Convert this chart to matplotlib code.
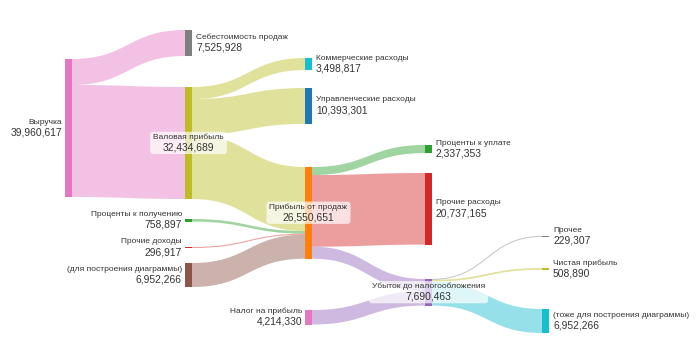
import matplotlib
matplotlib.use("Agg")
import matplotlib.pyplot as plt
from matplotlib.path import Path
from matplotlib.patches import PathPatch, Rectangle, FancyBboxPatch
from matplotlib.colors import to_rgba

plt.rcParams['font.family'] = ['Liberation Sans', 'DejaVu Sans']

# Nodes
nodes = ["Выручка", "Себестоимость продаж", "Валовая прибыль", "Коммерческие расходы",
         "Управленческие расходы", "Прибыль от продаж", "Проценты к получению",
         "Прочие доходы", "(для построения диаграммы)", "Налог на прибыль",
         "Проценты к уплате", "Прочие расходы", "Убыток до налогообложения",
         "Прочее", "Чистая прибыль", "(тоже для построения диаграммы)"]

# Links: source, target, value
link_src = [0, 0, 2, 2, 2, 6, 7, 8, 5, 5, 5, 9, 12, 12, 12]
link_tgt = [1, 2, 3, 4, 5, 5, 5, 5, 10, 11, 12, 12, 13, 14, 15]
link_val = [7525928, 32434689, 3498817, 10393301, 18542571, 758897, 296917, 6952266,
            2337353, 20737165, 3476133, 4214330, 229307, 508890, 6952266]

# Styling / layout
node_colors = ["#e377c2", "#7f7f7f", "#bcbd22", "#17becf", "#1f77b4", "#ff7f0e",
               "#2ca02c", "#d62728", "#8c564b", "#e377c2", "#2ca02c", "#d62728",
               "#9467bd", "#7f7f7f", "#bcbd22", "#17becf"]
link_colors = ["#e377c2", "#e377c2", "#bcbd22", "#bcbd22", "#bcbd22", "#2ca02c",
               "#d62728", "#8c564b", "#2ca02c", "#d62728", "#9467bd", "#9467bd",
               "#7f7f7f", "#bcbd22", "#17becf"]
node_col = [0, 1, 1, 2, 2, 2, 1, 1, 1, 2, 3, 3, 3, 4, 4, 4]
col_x = [65, 185, 305, 425, 542]
node_top = [59, 30, 87, 58, 88, 167, 219, 247, 263, 310, 145, 173, 279, 236, 268, 309]
label_side = ["left", "right", "center", "right", "right", "center", "left", "left",
              "left", "left", "right", "right", "center", "right", "right", "right"]
node_w = 7
scale = 138 / 39960617
name_fs = 6.0
val_fs = 7.4

n = len(nodes)
vin = [0] * n
vout = [0] * n
for s, t, v in zip(link_src, link_tgt, link_val):
    vout[s] += v
    vin[t] += v
node_val = [max(a, b) for a, b in zip(vin, vout)]

fig = plt.figure(figsize=(7, 3.5), dpi=100)
ax = fig.add_axes([0, 0, 1, 1])
ax.set_xlim(0, 700)
ax.set_ylim(350, 0)
ax.axis("off")

out_off = list(node_top)
in_off = list(node_top)
for s, t, v, c in zip(link_src, link_tgt, link_val, link_colors):
    h = v * scale
    x0 = col_x[node_col[s]] + node_w
    x1 = col_x[node_col[t]]
    y0 = out_off[s]
    y1 = in_off[t]
    out_off[s] += h
    in_off[t] += h
    xm = (x0 + x1) / 2
    if h < 2:
        # thin links: draw as a curve along the centre line
        yc0, yc1 = y0 + h / 2, y1 + h / 2
        verts = [(x0, yc0), (xm, yc0), (xm, yc1), (x1, yc1)]
        codes = [Path.MOVETO, Path.CURVE4, Path.CURVE4, Path.CURVE4]
        ax.add_patch(PathPatch(Path(verts, codes), facecolor="none",
                               edgecolor=to_rgba(c, 0.45), linewidth=max(h, 1) * 0.72, zorder=1))
        continue
    verts = [(x0, y0), (xm, y0), (xm, y1), (x1, y1),
             (x1, y1 + h), (xm, y1 + h), (xm, y0 + h), (x0, y0 + h), (x0, y0)]
    codes = [Path.MOVETO, Path.CURVE4, Path.CURVE4, Path.CURVE4,
             Path.LINETO, Path.CURVE4, Path.CURVE4, Path.CURVE4, Path.CLOSEPOLY]
    ax.add_patch(PathPatch(Path(verts, codes), facecolor=to_rgba(c, 0.45),
                           edgecolor="none", linewidth=0, zorder=1))

txt_color = "#333333"
fig.canvas.draw()
renderer = fig.canvas.get_renderer()
for i in range(n):
    x = col_x[node_col[i]]
    h = node_val[i] * scale
    y = node_top[i]
    ax.add_patch(Rectangle((x, y), node_w, max(h, 0.8), facecolor=node_colors[i],
                           edgecolor="none", zorder=2))
    cy = y + h / 2
    val = f"{node_val[i]:,}"
    if label_side[i] == "center":
        cx = x + node_w / 2
        t1 = ax.text(cx, cy - 6, nodes[i], fontsize=name_fs, ha="center", va="center",
                     color=txt_color, zorder=4)
        t2 = ax.text(cx, cy + 4.5, val, fontsize=val_fs, ha="center", va="center",
                     color=txt_color, zorder=4)
        inv = ax.transData.inverted()
        bb1 = t1.get_window_extent(renderer)
        bb2 = t2.get_window_extent(renderer)
        (ax0, ay0) = inv.transform((min(bb1.x0, bb2.x0), min(bb1.y0, bb2.y0)))
        (ax1, ay1) = inv.transform((max(bb1.x1, bb2.x1), max(bb1.y1, bb2.y1)))
        left, right = min(ax0, ax1), max(ax0, ax1)
        top, bot = min(ay0, ay1), max(ay0, ay1)
        ax.add_patch(FancyBboxPatch((left - 3, top - 1.5), right - left + 6, bot - top + 3,
                                    boxstyle="round,pad=0,rounding_size=3",
                                    facecolor=(1, 1, 1, 0.7), edgecolor="none", zorder=3))
    elif label_side[i] == "left":
        ax.text(x - 3, cy - 6, nodes[i], fontsize=name_fs, ha="right", va="center", color=txt_color)
        ax.text(x - 3, cy + 4.5, val, fontsize=val_fs, ha="right", va="center", color=txt_color)
    else:
        ax.text(x + node_w + 4, cy - 6, nodes[i], fontsize=name_fs, ha="left", va="center", color=txt_color)
        ax.text(x + node_w + 4, cy + 4.5, val, fontsize=val_fs, ha="left", va="center", color=txt_color)

fig.savefig("out.png", dpi=100)
